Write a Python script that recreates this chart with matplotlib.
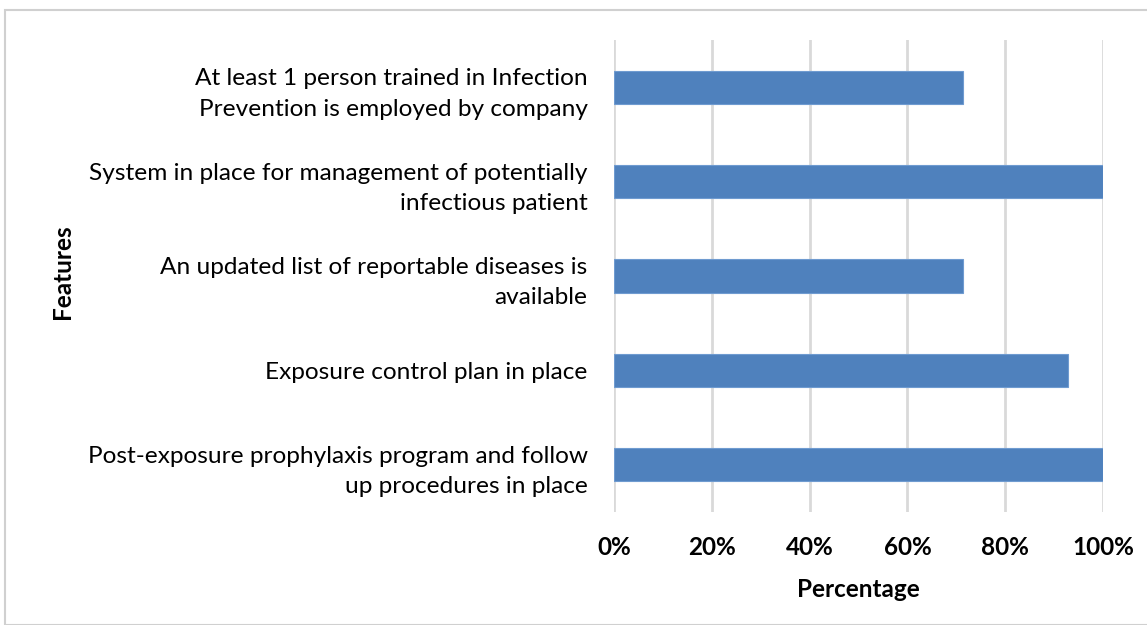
import matplotlib
matplotlib.use("Agg")
import matplotlib.pyplot as plt
from matplotlib.patches import Rectangle

categories = [
    "Post-exposure prophylaxis program and follow\nup procedures in place",
    "Exposure control plan in place",
    "An updated list of reportable diseases is\navailable",
    "System in place for management of potentially\ninfectious patient",
    "At least 1 person trained in Infection\nPrevention is employed by company",
]
values = [1.0, 0.929, 0.714, 1.0, 0.714]
xticks = [0, 0.2, 0.4, 0.6, 0.8, 1.0]
xticklabels = ["0%", "20%", "40%", "60%", "80%", "100%"]

plt.rcParams['font.family'] = ['Lato', 'DejaVu Sans']

fig = plt.figure(figsize=(11.47, 6.25), dpi=100)
ax = fig.add_axes([614/1147, 1-512/625, (1103-614)/1147, (512-40)/625])

ax.barh(range(len(categories)), values, height=0.35, color="#4f81bd",
        edgecolor="#6f9bd0", linewidth=0.8, zorder=3)
ax.set_xlim(0, 1.0)
ax.set_ylim(-0.5, len(categories) - 0.5)
ax.set_yticks(range(len(categories)))
ax.set_yticklabels(categories, fontsize=17.6, ha="right", linespacing=1.55)
ax.set_xticks(xticks)
ax.set_xticklabels(xticklabels, fontsize=17.5, fontweight="bold")
ax.tick_params(axis="y", length=0, pad=19)
ax.tick_params(axis="x", length=0, pad=17)
ax.grid(axis="x", color="#d9d9d9", linewidth=2, zorder=0)
for s in ["top", "right", "bottom", "left"]:
    ax.spines[s].set_visible(False)
ax.set_xlabel("Percentage", fontsize=17.5, fontweight="bold", labelpad=14)
fig.text(62/1147, 1-272/625, "Features", rotation=90, fontsize=17.5,
         fontweight="bold", ha="center", va="center")

fig.patches.append(Rectangle((4.5/1147, 0), 1.2, 1-9.5/625, transform=fig.transFigure,
                             fill=False, edgecolor="#d0d0d0", linewidth=1.5))

fig.savefig("out.png", dpi=100)
